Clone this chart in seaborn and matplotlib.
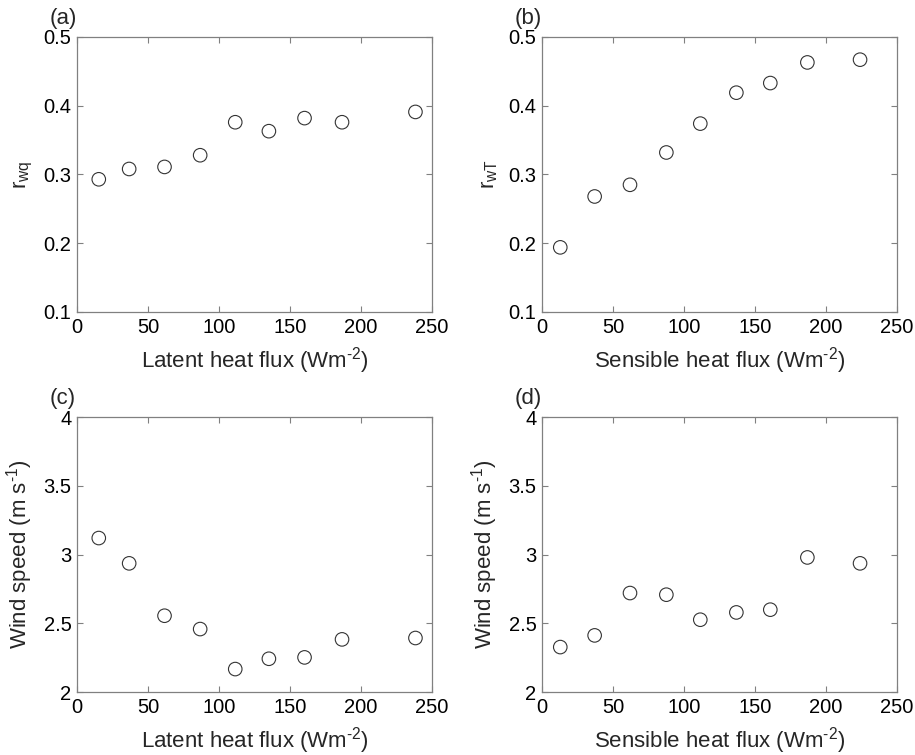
import matplotlib
matplotlib.use("Agg")
import matplotlib.pyplot as plt
import seaborn as sns
import pandas as pd

# heat flux bins (x) and values
latent_flux = [15.3, 36.7, 61.6, 86.7, 111.4, 135.1, 160.2, 186.6, 238.3]
sensible_flux = [12.9, 37.1, 62.0, 87.6, 111.5, 136.9, 160.8, 186.9, 224.0]

r_wq = [0.293, 0.308, 0.311, 0.328, 0.376, 0.363, 0.382, 0.376, 0.391]
r_wT = [0.194, 0.268, 0.285, 0.332, 0.374, 0.419, 0.433, 0.463, 0.467]
wind_latent = [3.12, 2.936, 2.555, 2.458, 2.167, 2.242, 2.252, 2.383, 2.393]
wind_sensible = [2.327, 2.412, 2.720, 2.708, 2.526, 2.579, 2.599, 2.979, 2.936]

panel_letters = ["(a)", "(b)", "(c)", "(d)"]

sns.set_style("ticks")
plt.rcParams["font.family"] = ["Liberation Sans", "DejaVu Sans"]
plt.rcParams["mathtext.fontset"] = "custom"
plt.rcParams["mathtext.rm"] = "Liberation Sans"
plt.rcParams["mathtext.it"] = "Liberation Sans"

fig = plt.figure(figsize=(9.15, 7.55), dpi=100)

left_x, right_x = 0.0842, 0.5923
top_y, bot_y = 0.5868, 0.0834
w, h = 0.388, 0.3642

flux_unit = " (Wm$^{\\text{-2}}$)"
panels = [
    (left_x, top_y, latent_flux, r_wq, "Latent heat flux" + flux_unit, "r$_{\\mathregular{wq}}$", (0.1, 0.5), [0.1, 0.2, 0.3, 0.4, 0.5], "{:.1f}"),
    (right_x, top_y, sensible_flux, r_wT, "Sensible heat flux" + flux_unit, "r$_{\\mathregular{wT}}$", (0.1, 0.5), [0.1, 0.2, 0.3, 0.4, 0.5], "{:.1f}"),
    (left_x, bot_y, latent_flux, wind_latent, "Latent heat flux" + flux_unit, "Wind speed (m s$^{\\text{-1}}$)", (2, 4), [2, 2.5, 3, 3.5, 4], "{:g}"),
    (right_x, bot_y, sensible_flux, wind_sensible, "Sensible heat flux" + flux_unit, "Wind speed (m s$^{\\text{-1}}$)", (2, 4), [2, 2.5, 3, 3.5, 4], "{:g}"),
]

for i, (x0, y0, xs, ys, xlab, ylab, ylim, yticks, fmt) in enumerate(panels):
    ax = fig.add_axes([x0, y0, w, h])
    df = pd.DataFrame({"x": xs, "y": ys})
    sns.scatterplot(data=df, x="x", y="y", ax=ax, marker="o", s=95,
                    facecolors="none", edgecolor="#333333", linewidth=0.8)
    ax.set_xlim(0, 250)
    ax.set_ylim(*ylim)
    ax.set_xticks([0, 50, 100, 150, 200, 250])
    ax.set_yticks(yticks)
    ax.set_yticklabels([fmt.format(v) for v in yticks])
    ax.tick_params(direction="in", length=4, width=0.8, color="#808080",
                   labelsize=14.5, labelcolor="black", top=True, right=True, pad=4)
    for sp in ax.spines.values():
        sp.set_color("#808080")
        sp.set_linewidth(0.9)
    ax.set_xlabel(xlab, fontsize=16, labelpad=6)
    ax.set_ylabel(ylab, fontsize=16, labelpad=6)
    ax.text(-0.04, 1.03, panel_letters[i], transform=ax.transAxes,
            fontsize=16, ha="center", va="bottom")

fig.savefig("out.png", dpi=100)
